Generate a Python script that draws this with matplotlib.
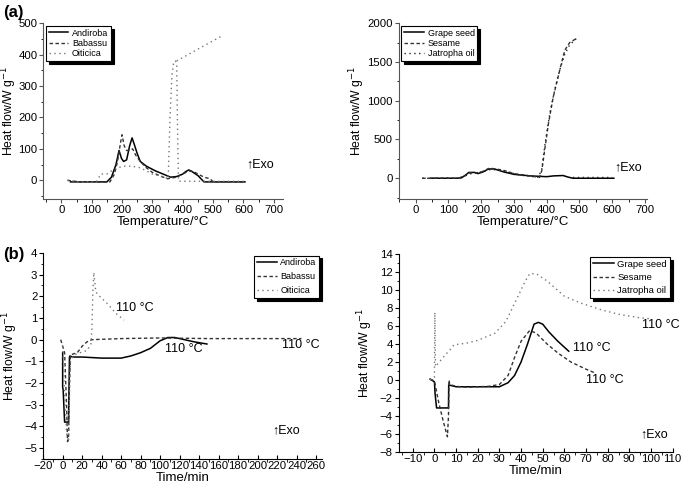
import matplotlib
matplotlib.use('Agg')
import matplotlib.pyplot as plt
import matplotlib.transforms as mtransforms
import numpy as np
from matplotlib.ticker import AutoMinorLocator

plt.rcParams['font.family'] = ['Liberation Sans', 'DejaVu Sans']
nan = np.nan

# ---- panel (a) left: heat flow vs temperature
a1_and_t = [30, 60, 100, 150, 165, 180, 190, 198, 205, 215, 225, 233, 240, 250, 260, 280, 310, 340, 360, 380,
            400, 410, 420, 430, 450, 465, 470, 540, 605]
a1_and_q = [-5, -5, -5, -5, 10, 50, 95, 70, 60, 65, 110, 135, 115, 85, 60, 45, 30, 18, 10, 12,
            20, 28, 33, 28, 15, 0, -5, -5, -5]
a1_bab_t = [20, 60, 100, 160, 175, 185, 195, 200, 207, 215, 225, 235, 245, 260, 280, 300, 330, 350, 380,
            400, 410, 420, 435, 450, 470, 490, 500, 605]
a1_bab_q = [0, -5, -5, -5, 20, 60, 120, 145, 110, 95, 95, 100, 80, 60, 40, 25, 12, 5, 10,
            20, 25, 30, 28, 20, 10, 5, -5, -5]
a1_oit_t = [20, 60, 115, 130, 150, 165, 185, 210, 230, 260, 300, 340, 352, 358, 364, 370, 376, 380, 383, 386,
            450, 600, nan, 380, 530]
a1_oit_q = [0, -5, -5, 20, 20, 30, 40, 45, 45, 40, 20, 10, 5, 200, 330, 375, 380, 370, 150, -3,
            -3, -3, nan, 380, 460]

# ---- panel (a) right
a2_gra_t = [45, 90, 125, 140, 155, 162, 180, 190, 205, 220, 228, 240, 255, 270, 300, 350, 400, 420, 450, 465,
            480, 540, 605]
a2_gra_q = [0, 0, 0, 5, 50, 75, 75, 60, 80, 115, 120, 120, 100, 80, 50, 30, 20, 30, 35, 15,
            0, 0, 0]
a2_ses_t = [20, 80, 130, 150, 165, 185, 200, 225, 245, 270, 300, 350, 378, 385, 395, 405, 420, 440, 455, 470,
            490]
a2_ses_q = [0, 0, 0, 30, 70, 70, 80, 130, 120, 100, 60, 30, 10, 100, 400, 700, 1050, 1400, 1650, 1750,
            1800]
a2_jat_t = [20, 80, 130, 150, 170, 200, 225, 250, 280, 320, 360, 375, 385, 395, 410, 425, 440, 455, 470, 490,
            nan, 480, 600]
a2_jat_q = [0, 0, 0, 30, 60, 80, 110, 110, 80, 40, 20, 15, 120, 450, 850, 1150, 1400, 1600, 1720, 1800,
            nan, 10, 10]

# ---- panel (b) left: heat flow vs time
b1_and_t = [0, 0, 0.5, 2, 6, 7, 7.5, 10, 20, 40, 60, 70, 80, 90, 100, 108, 115, 125, 135, 148]
b1_and_q = [-0.6, -2.2, -2.3, -3.8, -3.8, -0.8, -0.75, -0.8, -0.8, -0.85, -0.85, -0.75, -0.6, -0.4, -0.05, 0.1, 0.1, 0.0, -0.1, -0.2]
b1_bab_t = [-2, 2, 4, 5, 6, 7, 8, 15, 20, 25, 30, 60, 100, 150, 200, 245]
b1_bab_q = [0.0, -0.6, -3.0, -4.7, -4.6, -2.0, -0.7, -0.6, -0.3, -0.1, 0.0, 0.05, 0.08, 0.05, 0.05, 0.05]
b1_oit_t = [0, 2, 4, 6, 7, 8, 12, 18, 25, 29, 30, 31, 32, 34, 38, 45, 55, 63]
b1_oit_q = [-0.3, -2.5, -4.3, -4.7, -2.5, -1.0, -0.7, -0.6, -0.5, -0.2, 0.5, 2.2, 3.1, 2.2, 2.0, 1.7, 1.2, 0.9]

# ---- panel (b) right
b2_gra_t = [-2, 0, 0.3, 1, 6.5, 6.6, 10, 20, 30, 34, 37, 40, 43, 46, 48, 50, 53, 57, 62]
b2_gra_q = [0.1, -0.2, -1.5, -3.1, -3.1, -0.55, -0.75, -0.75, -0.75, -0.3, 0.5, 2.0, 4.0, 6.2, 6.4, 6.2, 5.3, 4.3, 3.2]
b2_ses_t = [-2, 0, 2, 4, 6, 6.5, 6.8, 7, 10, 15, 25, 30, 34, 37, 40, 44, 47, 52, 57, 63, 70, 74]
b2_ses_q = [0.1, -0.1, -2.5, -4.5, -6.3, -4.0, 0.0, -0.5, -0.7, -0.8, -0.7, -0.5, 0.5, 2.5, 4.3, 5.5, 5.2, 4.0, 3.0, 2.0, 1.2, 0.8]
b2_jat_t = [-2, 0, 0.2, 0.5, 4, 7, 9, 15, 20, 28, 33, 38, 42, 44, 47, 52, 60, 68, 77, 85, 95, 100]
b2_jat_q = [0.0, 0.3, 7.5, 1.5, 2.5, 3.3, 3.9, 4.1, 4.4, 5.2, 6.5, 9.0, 11.0, 11.8, 11.8, 11.0, 9.3, 8.5, 7.8, 7.3, 6.9, 6.8]

fig = plt.figure(figsize=(6.85, 4.93), dpi=100)
ax1 = fig.add_axes([0.063, 0.596, 0.350, 0.357])
ax2 = fig.add_axes([0.582, 0.596, 0.362, 0.357])
ax3 = fig.add_axes([0.063, 0.069, 0.407, 0.418])
ax4 = fig.add_axes([0.582, 0.083, 0.400, 0.402])

solid = dict(color='black', lw=1.1, ls='-')
dash = dict(color='#333333', lw=1.0, ls=(0, (2.5, 1.8)))
dot = dict(color='#777777', lw=1.0, ls=(0, (1, 2.5)))

ax1.plot(a1_and_t, a1_and_q, label='Andiroba', **solid)
ax1.plot(a1_bab_t, a1_bab_q, label='Babassu', **dash)
ax1.plot(a1_oit_t, a1_oit_q, label='Oiticica', **dot)

ax2.plot(a2_gra_t, a2_gra_q, label='Grape seed', **solid)
ax2.plot(a2_ses_t, a2_ses_q, label='Sesame', **dash)
ax2.plot(a2_jat_t, a2_jat_q, label='Jatropha oil', **dict(dot, color='#222222'))

ax3.plot(b1_and_t, b1_and_q, label='Andiroba', **solid)
ax3.plot(b1_bab_t, b1_bab_q, label='Babassu', **dash)
ax3.plot(b1_oit_t, b1_oit_q, label='Oiticica', **dot)

ax4.plot(b2_gra_t, b2_gra_q, label='Grape seed', **solid)
ax4.plot(b2_ses_t, b2_ses_q, label='Sesame', **dash)
ax4.plot(b2_jat_t, b2_jat_q, label='Jatropha oil', **dot)

ax1.set_xlim(-60, 730); ax1.set_ylim(-60, 500)
ax1.set_xticks(range(0, 701, 100)); ax1.set_yticks(range(0, 501, 100))
ax2.set_xlim(-52, 705); ax2.set_ylim(-270, 2000)
ax2.set_xticks(range(0, 701, 100)); ax2.set_yticks(range(0, 2001, 500))
ax3.set_xlim(-20, 266); ax3.set_ylim(-5.5, 4)
ax3.set_xticks(range(-20, 261, 20)); ax3.set_yticks(range(-5, 5))
ax4.set_xlim(-16.5, 110); ax4.set_ylim(-8, 14)
ax4.set_xticks(range(-10, 111, 10)); ax4.set_yticks(range(-8, 15, 2))

# x position (pixels) of the right edge of each y label
for ax, labx in ((ax1, 19), (ax2, 367), (ax3, 20), (ax4, 375)):
    ax.spines['top'].set_visible(False)
    ax.spines['right'].set_visible(False)
    ax.xaxis.set_minor_locator(AutoMinorLocator(2))
    ax.yaxis.set_minor_locator(AutoMinorLocator(2))
    ax.tick_params(axis='both', which='major', labelsize=8.2, length=3, width=0.8, pad=1.2)
    ax.tick_params(axis='both', which='minor', length=1.8, width=0.6)
    ax.tick_params(axis='y', direction='out')
    ax.set_ylabel(r'Heat flow/W g$^{-1}$', fontsize=8.8)
    tr = mtransforms.blended_transform_factory(fig.transFigure, ax.transAxes)
    ax.yaxis.set_label_coords(labx / 685, 0.5, transform=tr)

for ax in (ax1, ax2):
    ax.tick_params(axis='x', direction='out')
    for s in ('left', 'bottom'):
        ax.spines[s].set_color('#555555')
    ax.tick_params(colors='#555555', labelcolor='black')
    ax.set_xlabel('Temperature/°C', fontsize=9.5, labelpad=1)
for ax in (ax3, ax4):
    ax.tick_params(axis='x', direction='in')
    ax.set_xlabel('Time/min', fontsize=9.5, labelpad=1)

leg_kw = dict(frameon=True, fancybox=False, shadow={'color': 'black', 'alpha': 1},
              edgecolor='black', handlelength=2.2, handletextpad=0.4, borderpad=0.3,
              borderaxespad=0.3)
for ax, loc, fs, sp in ((ax1, 'upper left', 6.5, 0.15), (ax2, 'upper left', 6.5, 0.15),
                        (ax3, 'upper right', 6.5, 0.55), (ax4, 'upper right', 6.8, 0.45)):
    lg = ax.legend(loc=loc, fontsize=fs, labelspacing=sp, **leg_kw)
    lg.get_frame().set_linewidth(0.8)

# Exo markers and end-temperature notes
ax1.text(610, 40, '↑Exo', fontsize=9)
ax2.text(605, 100, '↑Exo', fontsize=9)
ax3.text(215, -4.3, '↑Exo', fontsize=9)
ax4.text(95, -6.4, '↑Exo', fontsize=9)

ax3.text(55, 1.3, '110 °C', fontsize=9)
ax3.text(105, -0.55, '110 °C', fontsize=9)
ax3.text(225, -0.4, '110 °C', fontsize=9)
ax4.text(64, 3.2, '110 °C', fontsize=9)
ax4.text(70, -0.3, '110 °C', fontsize=9)
ax4.text(96, 5.8, '110 °C', fontsize=9)

fig.text(0.005, 0.965, '(a)', fontsize=12, fontweight='bold')
fig.text(0.005, 0.475, '(b)', fontsize=12, fontweight='bold')

fig.savefig('out.png', dpi=100)
